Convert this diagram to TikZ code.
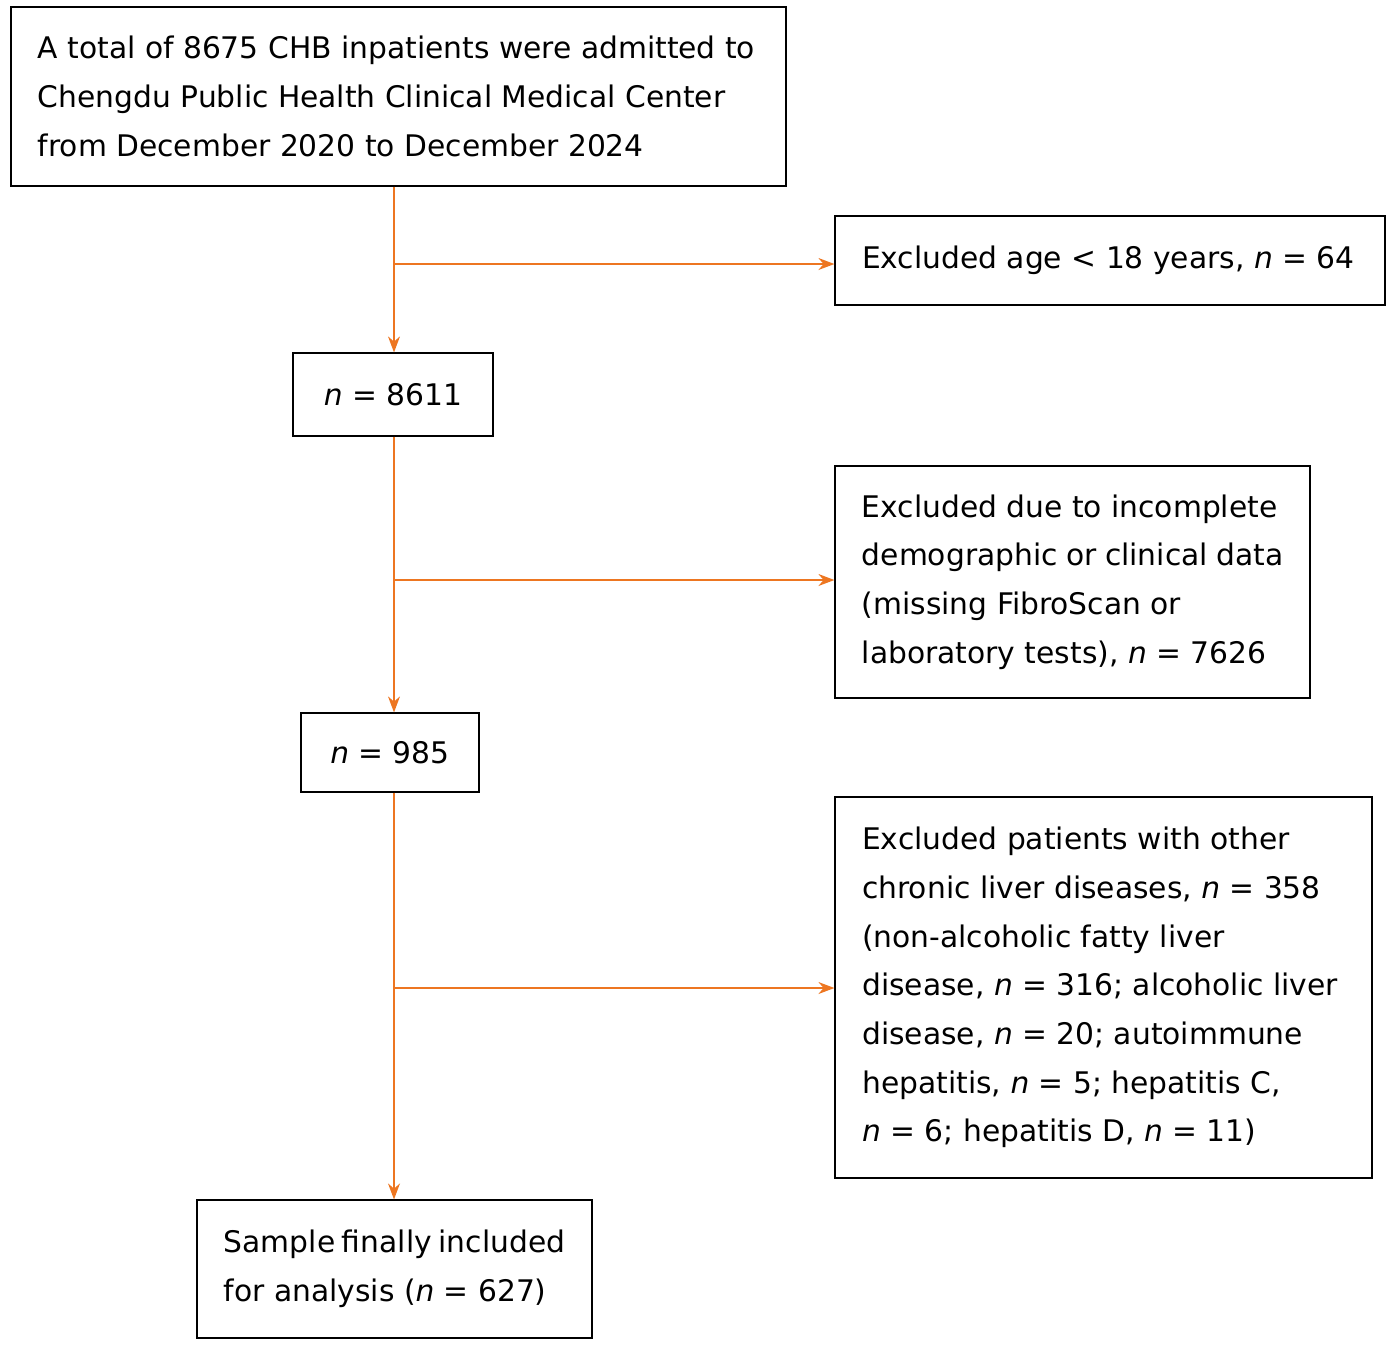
\documentclass[tikz,border=0pt]{standalone}
\usepackage{fontspec}
\setmainfont{DejaVu Sans}
\usetikzlibrary{arrows.meta}
\definecolor{org}{RGB}{237,118,33}
\newcommand{\nn}{\textit{n}}
\begin{document}
\begin{tikzpicture}[x=0.75pt,y=-0.75pt,
 box/.style={draw,line width=0.9pt,inner sep=0pt,font=\fontsize{22.3}{36.5}\selectfont,align=left},
 ar/.style={draw=org,line width=1pt,-{Stealth[length=12pt,width=9pt]}}]
\useasboundingbox (0,0) rectangle (1395,1347);
\newcommand{\bx}[6]{\node[box,minimum width={(#4-#2)*0.75pt},minimum height={(#5-#3)*0.75pt}] (#1) at ({(#2+#4)/2},{(#3+#5)/2}) {#6};}
\bx{b1}{11}{7}{786}{186}{\parbox{541pt}{A total of 8675 CHB inpatients were admitted to\\Chengdu Public Health Clinical Medical Center\\from December 2020 to December 2024}}
\bx{b2}{293}{353}{493}{436}{\nn{} = 8611}
\bx{b3}{301}{713}{479}{792}{\nn{} = 985}
\bx{b4}{197}{1200}{592}{1338}{\parbox{256pt}{Sample finally included\\for analysis (\nn{} = 627)}}
\bx{r1}{835}{216}{1385}{305}{\parbox{372pt}{Excluded age < 18 years, \nn{} = 64}}
\bx{r2}{835}{466}{1310}{698}{\parbox{316pt}{Excluded due to incomplete\\demographic or clinical data\\(missing FibroScan or\\laboratory tests), \nn{} = 7626}}
\bx{r3}{835}{797}{1372}{1178}{\parbox{362pt}{Excluded patients with other\\chronic liver diseases, \nn{} = 358\\(non-alcoholic fatty liver\\disease, \nn{} = 316; alcoholic liver\\disease, \nn{} = 20; autoimmune\\hepatitis, \nn{} = 5; hepatitis C,\\\nn{} = 6; hepatitis D, \nn{} = 11)}}
\coordinate (j1) at (394,264); \coordinate (j2) at (394,580); \coordinate (j3) at (394,988);
\draw[ar] (b1.south -| j1) -- (b2.north -| j1);
\draw[ar] (b2.south -| j1) -- (b3.north -| j1);
\draw[ar] (b3.south -| j1) -- (b4.north -| j1);
\draw[ar] (j1) -- (r1.west |- j1);
\draw[ar] (j2) -- (r2.west |- j2);
\draw[ar] (j3) -- (r3.west |- j3);
\end{tikzpicture}
\end{document}
